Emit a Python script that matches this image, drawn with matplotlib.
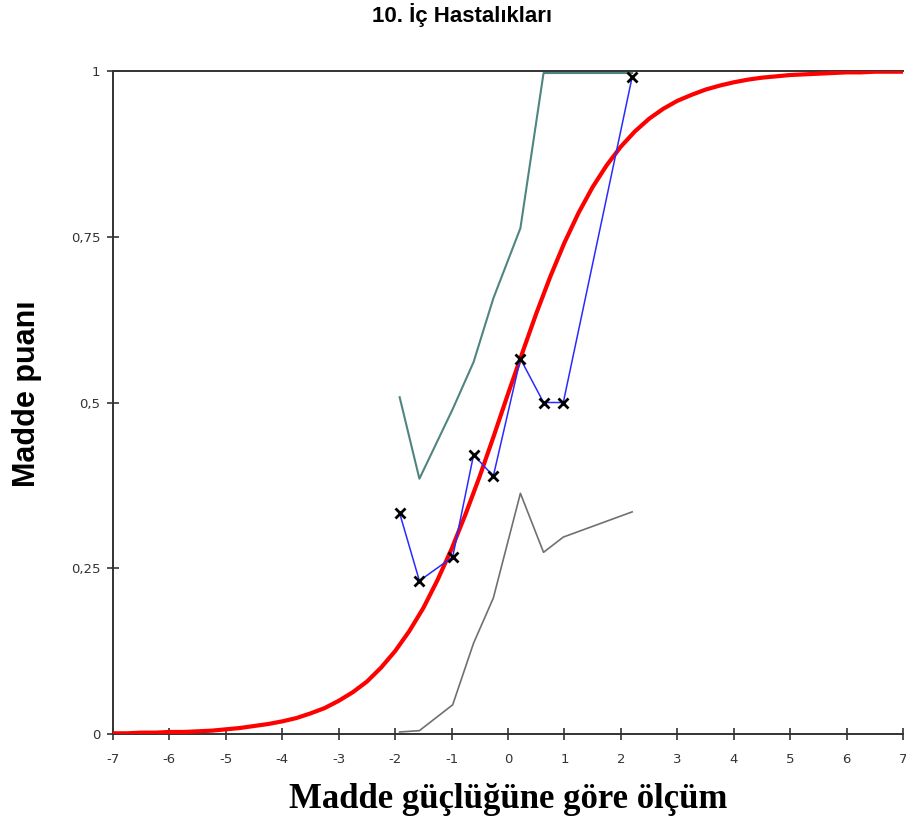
import numpy as np
import matplotlib
matplotlib.use("Agg")
import matplotlib.pyplot as plt

# ---- item characteristic data ----
# expected score curve (model), read at quarter-logit steps
model_x = list(np.arange(-7, 7.01, 0.25))
model_y = [0.001, 0.001, 0.002, 0.002, 0.003, 0.003, 0.004, 0.005, 0.007, 0.009,
           0.012, 0.015, 0.019, 0.024, 0.031, 0.039, 0.050, 0.063, 0.079, 0.100,
           0.125, 0.155, 0.190, 0.232, 0.279, 0.332, 0.389, 0.450, 0.513, 0.574,
           0.634, 0.690, 0.741, 0.786, 0.825, 0.858, 0.886, 0.909, 0.928, 0.943,
           0.955, 0.964, 0.972, 0.978, 0.983, 0.987, 0.990, 0.992, 0.994, 0.995,
           0.996, 0.997, 0.998, 0.998, 0.999, 0.999, 0.999]

# observed mean scores per ability group
group_x = [-1.92, -1.57, -0.98, -0.61, -0.26, 0.22, 0.63, 0.98, 2.2]
observed = [0.333, 0.231, 0.267, 0.421, 0.389, 0.566, 0.500, 0.500, 0.991]
upper_band = [0.508, 0.385, 0.490, 0.561, 0.657, 0.763, 0.997, 0.997, 0.997]
lower_band = [0.003, 0.005, 0.044, 0.137, 0.205, 0.363, 0.274, 0.297, 0.335]

x_ticks = list(range(-7, 8))
y_ticks = [0, 0.25, 0.5, 0.75, 1]
y_tick_labels = ["0", "0,25", "0,5", "0,75", "1"]

fig = plt.figure(figsize=(9.06, 8.27), dpi=100)
ax = fig.add_axes([0.1247, 0.1125, 0.872, 0.8016])

ax.plot(group_x, upper_band, color="#4f8580", linewidth=1.5, zorder=2)
ax.plot(group_x, lower_band, color="#707070", linewidth=1.2, zorder=2)
ax.plot(model_x, model_y, color="#ff0000", linewidth=3, zorder=3,
        solid_joinstyle="round")
ax.plot(group_x, observed, color="#2a2aff", linewidth=1.1, zorder=4,
        marker="x", markersize=6.5, markeredgewidth=2, markeredgecolor="black")

ax.set_xlim(-7, 7)
ax.set_ylim(0, 1)
ax.set_xticks(x_ticks)
ax.set_xticklabels([str(t) for t in x_ticks])
ax.set_yticks(y_ticks)
ax.set_yticklabels(y_tick_labels)
ax.tick_params(direction="inout", length=8, width=1.2, colors="#333333",
               labelsize=9.5, labelcolor="#333333")
ax.tick_params(axis="x", pad=10)
ax.tick_params(axis="y", pad=5)

for side in ["left", "bottom", "top"]:
    ax.spines[side].set_color("#333333")
    ax.spines[side].set_linewidth(1.4)
ax.spines["right"].set_visible(False)

fig.text(0.51, 0.982, "10. İç Hastalıkları", ha="center", va="center",
         fontsize=16, fontweight="bold",
         family=["Liberation Sans Narrow", "Liberation Sans"])
fig.text(0.03, 0.524, "Madde puanı", ha="center", va="center", rotation=90,
         fontsize=22, fontweight="bold", family="Liberation Sans")
ax.set_xlabel("Madde güçlüğüne göre ölçüm", fontsize=25, fontweight="bold",
              family="Liberation Serif", labelpad=12)

fig.savefig("out.png", dpi=100, facecolor="white")
